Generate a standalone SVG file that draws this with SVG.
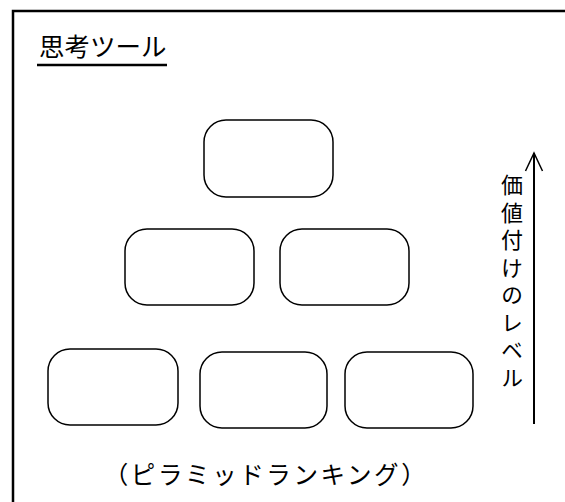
<svg xmlns="http://www.w3.org/2000/svg" width="565" height="502" viewBox="0 0 565 502">
<defs>
<style>
.box{fill:#fff;stroke:#000;stroke-width:1.5}
.jp{font-family:"Noto Sans CJK JP","Noto Sans",sans-serif;fill:#000}
.line{stroke:#000;fill:none}
</style>
<marker id="arr" markerWidth="24" markerHeight="24" refX="20" refY="10" orient="auto" markerUnits="userSpaceOnUse" viewBox="0 0 24 20">
<path d="M2,1.5 L20,10 L2,18.5" fill="none" stroke="#000" stroke-width="1.5"/>
</marker>
</defs>
<rect width="565" height="502" fill="#fff"/>
<path class="line" d="M13,502 V11 H565" stroke-width="2.5"/>
<g id="title">
<text class="jp" x="39" y="56" font-size="25.5">思考ツール</text>
<line class="line" x1="37" y1="65" x2="167" y2="65" stroke-width="2.5"/>
</g>
<g id="node-top"><rect class="box" x="204" y="120" width="129" height="77" rx="22"/></g>
<g id="node-mid-left"><rect class="box" x="125" y="229" width="129" height="76" rx="22"/></g>
<g id="node-mid-right"><rect class="box" x="280" y="229" width="129" height="76" rx="22"/></g>
<g id="node-bot-left"><rect class="box" x="48" y="349" width="130" height="76" rx="22"/></g>
<g id="node-bot-mid"><rect class="box" x="200" y="352" width="127" height="76" rx="22"/></g>
<g id="node-bot-right"><rect class="box" x="345" y="352" width="128" height="76" rx="22"/></g>
<g id="connectors">
<line class="line" x1="534" y1="424" x2="534" y2="153" stroke-width="2" marker-end="url(#arr)"/>
</g>
<g id="axis-label">
<text class="jp" x="512" y="174" font-size="22" writing-mode="vertical-rl" letter-spacing="5.5">価値付けのレベル</text>
</g>
<g id="caption">
<text class="jp" x="266" y="484" font-size="24.5" text-anchor="middle" letter-spacing="2.6">（ピラミッドランキング）</text>
</g>
</svg>
